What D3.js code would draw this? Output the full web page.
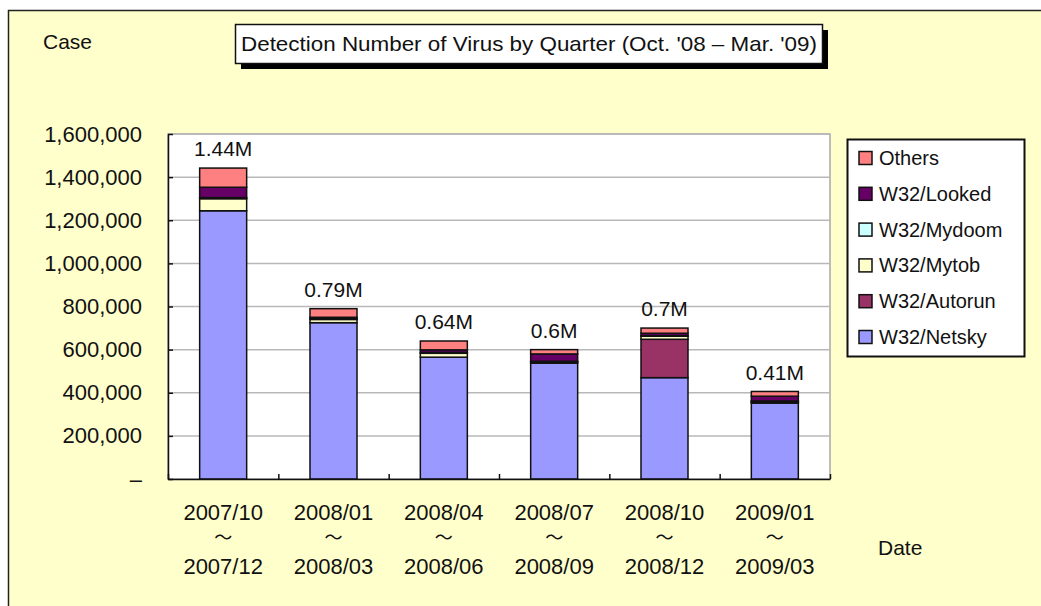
<!DOCTYPE html>
<html>
<head>
<meta charset="utf-8">
<script src="https://cdn.jsdelivr.net/npm/d3@7"></script>
<style>
  body { margin: 0; background: #fff; }
  text { font-family: "Liberation Sans", Arial, sans-serif; fill: #111; }
</style>
</head>
<body>
<div></div>
<script>
// quarters (start / end of each period)
const qStart = ['2007/10', '2008/01', '2008/04', '2008/07', '2008/10', '2009/01'];
const qEnd = ['2007/12', '2008/03', '2008/06', '2008/09', '2008/12', '2009/03'];
const totalLabels = ['1.44M', '0.79M', '0.64M', '0.6M', '0.7M', '0.41M'];

// cases per virus, stacked bottom to top
const netsky = [1244000, 725000, 565000, 537000, 470000, 352000];
const autorun = [0, 0, 0, 0, 178000, 4000];
const mytob = [56000, 15000, 18000, 5000, 14000, 4000];
const mydoom = [5000, 3000, 4000, 4000, 3000, 2000];
const looked = [48000, 7000, 12000, 34000, 11000, 22000];
const others = [89000, 40000, 41000, 20000, 24000, 22000];

const yTicks = [0, 200000, 400000, 600000, 800000, 1000000, 1200000, 1400000, 1600000];

const seriesNames = ['W32/Netsky', 'W32/Autorun', 'W32/Mytob', 'W32/Mydoom', 'W32/Looked', 'Others'];
const seriesValues = [netsky, autorun, mytob, mydoom, looked, others];
const seriesColors = ['#9999FF', '#993366', '#FFFFCC', '#CCFFFF', '#660066', '#FF8080'];

const W = 1041, H = 606;
const plot = { left: 168, right: 830, top: 134, bottom: 479 };

const rows = qStart.map((q, i) => {
	const r = { q: q };
	seriesNames.forEach((s, j) => r[s] = seriesValues[j][i]);
	return r;
});
const stacked = d3.stack().keys(seriesNames)(rows);

const x = d3.scaleBand()
	.domain(qStart)
	.range([plot.left, plot.right])
	.paddingInner(0.574)
	.paddingOuter(0.287);

const xEdge = d3.scaleLinear().domain([0, qStart.length]).range([plot.left, plot.right]);

const y = d3.scaleLinear()
	.domain([0, 1600000])
	.range([plot.bottom, plot.top]);

const svg = d3.select('body').select('div')
	.append('svg')
	.attr('width', W)
	.attr('height', H);

// chart background
svg.append('rect')
	.attr('x', 8.5).attr('y', 10.5)
	.attr('width', W + 10).attr('height', H + 10)
	.attr('fill', '#FFFFCC')
	.attr('stroke', '#222')
	.attr('stroke-width', 1.5);

// plot area
svg.append('rect')
	.attr('x', plot.left).attr('y', plot.top)
	.attr('width', plot.right - plot.left).attr('height', plot.bottom - plot.top)
	.attr('fill', '#fff')
	.attr('stroke', '#a8a8a8')
	.attr('stroke-width', 1.5);

svg.append('g')
	.selectAll('line')
	.data(yTicks.filter(d => d > 0))
	.enter()
	.append('line')
	.attr('x1', plot.left).attr('x2', plot.right)
	.attr('y1', d => y(d)).attr('y2', d => y(d))
	.attr('stroke', '#b8b8b8')
	.attr('stroke-width', 1.5);

// bars
svg.append('g')
	.selectAll('g')
	.data(stacked)
	.enter()
	.append('g')
	.attr('fill', (d, i) => seriesColors[i])
	.selectAll('rect')
	.data(d => d)
	.enter()
	.append('rect')
	.attr('x', d => x(d.data.q))
	.attr('width', x.bandwidth())
	.attr('y', d => y(d[1]))
	.attr('height', d => y(d[0]) - y(d[1]))
	.attr('stroke', '#111')
	.attr('stroke-width', 1.5);

// total labels
svg.append('g')
	.selectAll('text')
	.data(qStart)
	.enter()
	.append('text')
	.attr('x', d => x(d) + x.bandwidth() / 2)
	.attr('y', (d, i) => y(stacked[stacked.length - 1][i][1]) - 19)
	.attr('dy', '0.35em')
	.attr('text-anchor', 'middle')
	.style('font-size', '21px')
	.text((d, i) => totalLabels[i]);

// y axis
const yAxis = svg.append('g')
	.attr('transform', `translate(${plot.left}, 0)`)
	.call(d3.axisLeft(y)
		.tickValues(yTicks)
		.tickSizeInner(-5)
		.tickSizeOuter(0)
		.tickPadding(26)
		.tickFormat(d => d === 0 ? '–' : d3.format(',')(d)));
yAxis.select('.domain').attr('stroke', '#111').attr('stroke-width', 1.5);
yAxis.selectAll('.tick line').attr('stroke', '#111').attr('stroke-width', 1.5);
yAxis.selectAll('.tick text')
	.style('font-size', '22px')
	.style('font-family', '"Liberation Sans", Arial, sans-serif')
	.attr('fill', '#111');

// x axis (ticks at category edges)
const xAxis = svg.append('g')
	.attr('transform', `translate(0, ${plot.bottom})`)
	.call(d3.axisBottom(xEdge)
		.ticks(qStart.length)
		.tickSizeInner(-5)
		.tickSizeOuter(0)
		.tickFormat(''));
xAxis.select('.domain').attr('stroke', '#111').attr('stroke-width', 1.5);
xAxis.selectAll('.tick line').attr('stroke', '#111').attr('stroke-width', 1.5);

const xl = svg.append('g')
	.selectAll('text')
	.data(qStart)
	.enter()
	.append('text')
	.attr('text-anchor', 'middle')
	.style('font-size', '22px');
xl.append('tspan')
	.attr('x', d => x(d) + x.bandwidth() / 2)
	.attr('y', 512).attr('dy', '0.35em')
	.text(d => d);
xl.append('tspan')
	.attr('x', d => x(d) + x.bandwidth() / 2)
	.attr('y', 538).attr('dy', '0.35em')
	.style('font-family', '"Noto Sans CJK JP", sans-serif')
	.style('font-size', '18px')
	.text('～');
xl.append('tspan')
	.attr('x', d => x(d) + x.bandwidth() / 2)
	.attr('y', 566).attr('dy', '0.35em')
	.text((d, i) => qEnd[i]);

// axis titles
svg.append('text')
	.attr('x', 43).attr('y', 42).attr('dy', '0.35em')
	.style('font-size', '21px')
	.text('Case');

svg.append('text')
	.attr('x', 878).attr('y', 548).attr('dy', '0.35em')
	.style('font-size', '21px')
	.text('Date');

// title box
svg.append('rect')
	.attr('x', 241).attr('y', 30)
	.attr('width', 587).attr('height', 39)
	.attr('fill', '#000');
svg.append('rect')
	.attr('x', 235.5).attr('y', 24.5)
	.attr('width', 587).attr('height', 39)
	.attr('fill', '#fff')
	.attr('stroke', '#111')
	.attr('stroke-width', 1.5);
svg.append('text')
	.attr('x', 529).attr('y', 44).attr('dy', '0.35em')
	.attr('text-anchor', 'middle')
	.attr('textLength', 576)
	.attr('lengthAdjust', 'spacingAndGlyphs')
	.style('font-size', '21px')
	.text("Detection Number of Virus by Quarter (Oct. '08 – Mar. '09)");

// legend
const legend = svg.append('g');
legend.append('rect')
	.attr('x', 847.5).attr('y', 139.5)
	.attr('width', 177).attr('height', 217)
	.attr('fill', '#fff')
	.attr('stroke', '#111')
	.attr('stroke-width', 2);

const legendOrder = seriesNames.map((s, i) => i).reverse();
const li = legend.selectAll('g.item')
	.data(legendOrder)
	.enter()
	.append('g')
	.attr('class', 'item')
	.attr('transform', (d, i) => `translate(859, ${158 + i * 35.8})`);
li.append('rect')
	.attr('x', 0).attr('y', -6.5)
	.attr('width', 13).attr('height', 13)
	.attr('fill', d => seriesColors[d])
	.attr('stroke', '#111')
	.attr('stroke-width', 1.5);
li.append('text')
	.attr('x', 20).attr('y', 0).attr('dy', '0.35em')
	.style('font-size', '20px')
	.text(d => seriesNames[d]);
</script>
</body>
</html>
